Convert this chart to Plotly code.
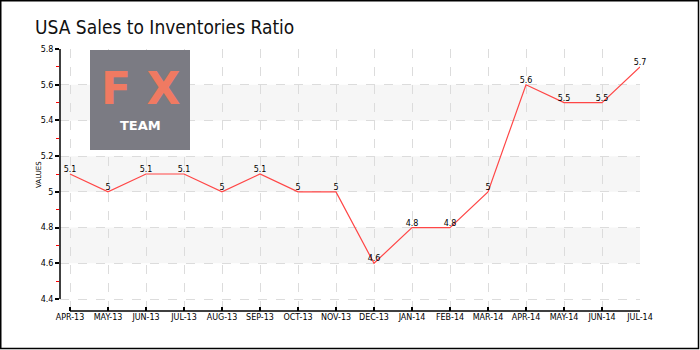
import plotly.graph_objects as go

months = ["APR-13", "MAY-13", "JUN-13", "JUL-13", "AUG-13", "SEP-13", "OCT-13", "NOV-13",
          "DEC-13", "JAN-14", "FEB-14", "MAR-14", "APR-14", "MAY-14", "JUN-14", "JUL-14"]
values = [5.1, 5.0, 5.1, 5.1, 5.0, 5.1, 5.0, 5.0, 4.6, 4.8, 4.8, 5.0, 5.6, 5.5, 5.5, 5.7]
ytick_vals = [4.4, 4.6, 4.8, 5.0, 5.2, 5.4, 5.6, 5.8]
ytick_text = ["4.4", "4.6", "4.8", "5", "5.2", "5.4", "5.6", "5.8"]
bands = [(5.4, 5.6), (5.0, 5.2), (4.6, 4.8)]

W, H = 700, 350
L, R, T, B = 60, 640, 49, 311  # plot area in px

def px(x):
    return (x - L) / (R - L)

def py(y):
    return (B - y) / (B - T)

idx = list(range(len(months)))
fig = go.Figure()
fig.add_trace(go.Scatter(
    x=idx, y=values, mode="lines+text",
    line=dict(color="rgb(255,70,70)", width=1.2),
    text=[f"{v:g}" for v in values], textposition="top center",
    textfont=dict(family="DejaVu Sans", size=8, color="black"),
    cliponaxis=False, hoverinfo="skip", showlegend=False,
))

shapes = []
for lo, hi in bands:
    shapes.append(dict(type="rect", xref="paper", yref="y", x0=0, x1=1, y0=lo, y1=hi,
                       fillcolor="#f6f6f6", line=dict(width=0), layer="below"))
# y axis line (only over data range)
shapes.append(dict(type="line", xref="paper", yref="y", x0=0, x1=0, y0=4.4, y1=5.8,
                   line=dict(color="black", width=1.5)))
# x axis line
shapes.append(dict(type="line", xref="x", yref="paper", x0=0, x1=len(months) - 1, y0=0, y1=0,
                   line=dict(color="black", width=1.5)))
# outer border
shapes.append(dict(type="rect", xref="paper", yref="paper",
                   x0=px(0.75), x1=px(698.5), y0=py(0.75), y1=py(348.5),
                   line=dict(color="black", width=1.5)))
# logo box
shapes.append(dict(type="rect", xref="paper", yref="paper",
                   x0=px(90), x1=px(190), y0=py(150), y1=py(50),
                   fillcolor="#7b7b83", line=dict(width=0), layer="above"))

cond = "DejaVu Sans Condensed, Liberation Sans Narrow, Roboto Condensed, sans-serif"
annotations = [
    dict(text="USA Sales to Inventories Ratio", xref="paper", yref="paper",
         x=px(33), y=py(27), xanchor="left", yanchor="middle", showarrow=False,
         font=dict(family=cond, size=19, color="#111")),
    dict(text="VALUES", xref="paper", yref="paper", x=px(33), y=py(175),
         textangle=-90, showarrow=False, font=dict(family="DejaVu Sans", size=7, color="black")),
    dict(text="<b>F X</b>", xref="paper", yref="paper", x=px(140), y=py(116), showarrow=False,
         xanchor="center", yanchor="bottom",
         font=dict(family="DejaVu Sans", size=44, color="#f07a62")),
    dict(text="<b>TEAM</b>", xref="paper", yref="paper", x=px(140), y=py(116), showarrow=False,
         xanchor="center", yanchor="top",
         font=dict(family="DejaVu Sans", size=13, color="white")),
]

fig.update_layout(
    width=W, height=H,
    margin=dict(l=L, r=W - R, t=T, b=H - B, pad=0),
    paper_bgcolor="white", plot_bgcolor="white",
    shapes=shapes, annotations=annotations,
    xaxis=dict(range=[-10 / 38, len(months) - 1], tickvals=idx, ticktext=months,
               showgrid=True, gridcolor="#dcdcdc", griddash="dash", gridwidth=1,
               zeroline=False, showline=False,
               ticks="inside", ticklen=4, tickcolor="black", tickwidth=1.5,
               tickfont=dict(family="DejaVu Sans", size=8, color="black")),
    yaxis=dict(range=[4.4 - 12 * 1.4 / 250, 5.8], tickvals=ytick_vals, ticktext=ytick_text,
               showgrid=True, gridcolor="#dcdcdc", griddash="dash", gridwidth=1,
               zeroline=False, showline=False,
               ticks="outside", ticklen=4, tickcolor="black", tickwidth=1.5,
               tickfont=dict(family="DejaVu Sans", size=8, color="black"),
               minor=dict(tickvals=[4.5, 4.7, 4.9, 5.1, 5.3, 5.5, 5.7], ticks="outside",
                          ticklen=3, tickcolor="red", tickwidth=1, showgrid=False)),
)

fig.write_html("out.html")
